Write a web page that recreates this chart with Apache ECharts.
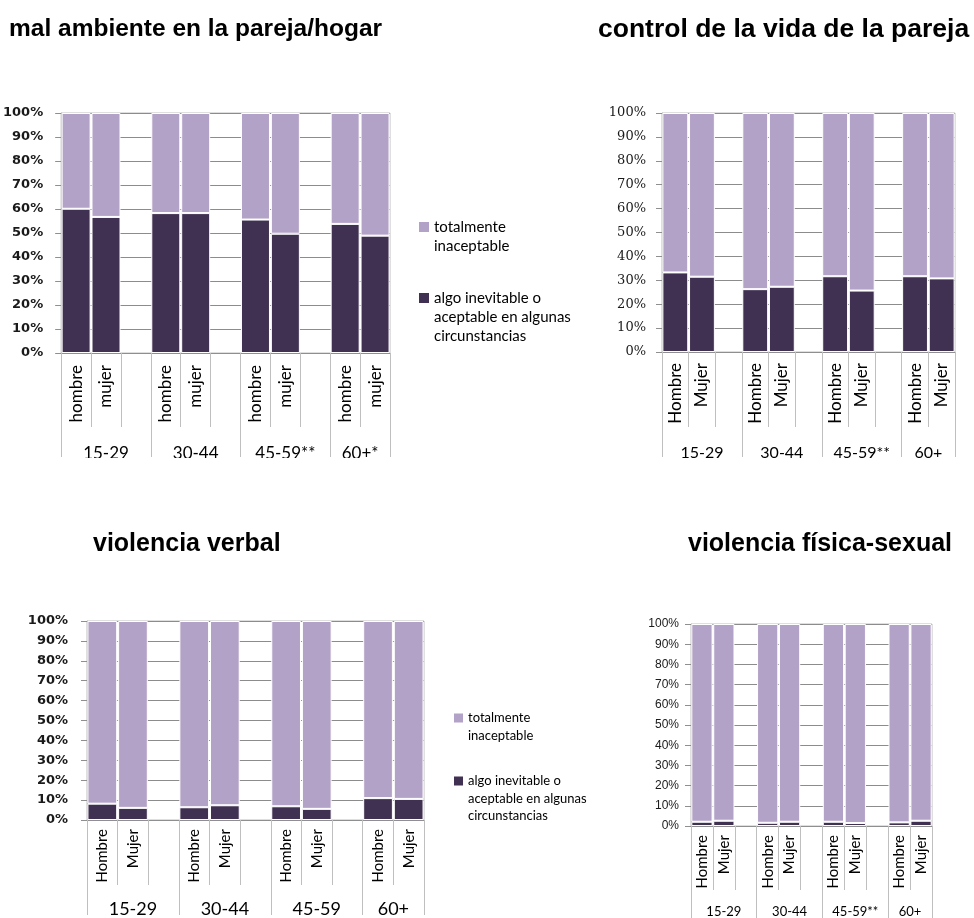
<!DOCTYPE html>
<html>
<head>
<meta charset="utf-8">
<script src="https://cdn.jsdelivr.net/npm/echarts@6/dist/echarts.min.js"></script>
<style>
  html, body { margin: 0; background: #fff; }
  #chart { width: 974px; height: 918px; }
</style>
</head>
<body>
<div id="chart"></div>
<script>
// etiquetas
const sexosMin = ['hombre', 'mujer'];
const sexosMay = ['Hombre', 'Mujer'];
const edadesAmbiente = ['15-29', '30-44', '45-59**', '60+*'];
const edadesControl = ['15-29', '30-44', '45-59**', '60+'];
const edadesVerbal = ['15-29', '30-44', '45-59', '60+'];
const edadesFisica = ['15-29', '30-44', '45-59**', '60+'];

// valores (%), orden: H15, M15, H30, M30, H45, M45, H60, M60
const ambienteAlgo = [60.1, 56.7, 58.3, 58.3, 55.6, 49.7, 53.8, 48.9];
const ambienteTotal = [39.9, 43.3, 41.7, 41.7, 44.4, 50.3, 46.2, 51.1];
const controlAlgo = [33.3, 31.5, 26.3, 27.3, 31.7, 25.7, 31.7, 30.8];
const controlTotal = [66.7, 68.5, 73.7, 72.7, 68.3, 74.3, 68.3, 69.2];
const verbalAlgo = [8.2, 6.1, 6.4, 7.4, 6.9, 5.6, 11.0, 10.6];
const verbalTotal = [91.8, 93.9, 93.6, 92.6, 93.1, 94.4, 89.0, 89.4];
const fisicaAlgo = [2.1, 2.6, 1.6, 2.1, 2.1, 1.5, 1.8, 2.6];
const fisicaTotal = [97.9, 97.4, 98.4, 97.9, 97.9, 98.5, 98.2, 97.4];

const serieAlgo = 'algo inevitable o aceptable en algunas circunstancias';
const serieTotal = 'totalmente inaceptable';
const colorAlgo = '#403152';
const colorTotal = '#b3a2c7';

const panels = [
  { title: 'mal ambiente en la pareja/hogar', tx: 9, ty: 17, tSize: 24.5,
    grid: { left: 58, top: 113, width: 332, height: 240 },
    sexos: sexosMin, edades: edadesAmbiente, algo: ambienteAlgo, total: ambienteTotal,
    yFont: { fontFamily: 'DejaVu Sans', fontWeight: 'bold', fontSize: 13 }, yMargin: 18,
    sexFont: 17, sexMargin: 12, sepLen: 74, edadFont: 17, edadMargin: 92, longLen: 104 },
  { title: 'control de la vida de la pareja', tx: 598, ty: 16, tSize: 26.5,
    grid: { left: 662, top: 113, width: 293, height: 239 },
    sexos: sexosMay, edades: edadesControl, algo: controlAlgo, total: controlTotal,
    yFont: { fontFamily: 'DejaVu Serif', fontSize: 13 }, yMargin: 16,
    sexFont: 17, sexMargin: 11, sepLen: 75, edadFont: 16, edadMargin: 93, longLen: 105 },
  { title: 'violencia verbal', tx: 93, ty: 532, tSize: 25,
    grid: { left: 87, top: 621, width: 337, height: 207 },
    sexos: sexosMay, edades: edadesVerbal, algo: verbalAlgo, total: verbalTotal,
    yFont: { fontFamily: 'DejaVu Sans', fontWeight: 'bold', fontSize: 13 }, yMargin: 19,
    sexFont: 15, sexMargin: 9, sepLen: 65, edadFont: 18, edadMargin: 80, longLen: 95 },
  { title: 'violencia física-sexual', tx: 688, ty: 532, tSize: 25,
    grid: { left: 691, top: 624, width: 241, height: 205 },
    sexos: sexosMay, edades: edadesFisica, algo: fisicaAlgo, total: fisicaTotal,
    yFont: { fontFamily: 'Liberation Sans', fontSize: 12 }, yMargin: 12,
    sexFont: 15, sexMargin: 9, sepLen: 64, edadFont: 13, edadMargin: 79, longLen: 95 }
];

// reparte los 8 valores en las casillas, con una casilla vacía entre grupos
function enCasillas(vals, n) {
  const out = [];
  for (let g = 0; g < n; g++) {
    out.push(vals[2 * g], vals[2 * g + 1]);
    if (g < n - 1) out.push('-');
  }
  return out;
}

const option = { animation: false, title: [], grid: [], xAxis: [], yAxis: [], series: [], graphic: [] };

panels.forEach(function (p, i) {
  const nG = p.edades.length;
  const casillas = [];
  const tamGrupos = [];
  p.edades.forEach(function (e, g) {
    casillas.push(p.sexos[0], p.sexos[1]);
    if (g < nG - 1) casillas.push('');
    tamGrupos.push(g < nG - 1 ? 3 : 2);
  });
  // eje de grupos: puntos cada media casilla
  const nPuntos = casillas.length * 2 + 1;
  const limites = new Set([0]);
  const centros = {};
  let acc = 0;
  tamGrupos.forEach(function (t, g) {
    centros[acc + t] = p.edades[g];
    acc += 2 * t;
    limites.add(acc);
  });

  option.title.push({
    text: p.title, left: p.tx, top: p.ty, padding: 0,
    textStyle: { fontFamily: 'Liberation Sans', fontWeight: 'bold', fontSize: p.tSize, color: '#000' }
  });
  option.grid.push(Object.assign({ show: true, borderColor: '#bfbfbf', borderWidth: 1, containLabel: false }, p.grid));

  option.xAxis.push({
    type: 'category', gridIndex: i, position: 'bottom',
    data: casillas.map(function (c, k) { return 's' + k; }),
    axisLine: { lineStyle: { color: '#8f8f8f', width: 1 } },
    axisTick: { show: true, interval: 0, length: p.sepLen, lineStyle: { color: '#bfbfbf' } },
    axisLabel: {
      interval: 0, rotate: 90, margin: p.sexMargin,
      fontFamily: 'Lato', fontSize: p.sexFont, color: '#000',
      formatter: function (v, k) { return casillas[k]; }
    },
    splitLine: { show: false }
  });
  option.xAxis.push({
    type: 'category', gridIndex: i, position: 'bottom', boundaryGap: false,
    data: Array.from({ length: nPuntos }, function (_, k) { return 'p' + k; }),
    axisLine: { show: false },
    axisTick: { show: true, interval: function (k) { return limites.has(k); }, length: p.longLen, lineStyle: { color: '#bfbfbf' } },
    axisLabel: {
      interval: function (k) { return centros[k] !== undefined; }, margin: p.edadMargin,
      fontFamily: 'Lato', fontSize: p.edadFont, color: '#000',
      formatter: function (v, k) { return centros[k] || ''; }
    },
    splitLine: { show: false }
  });
  option.yAxis.push({
    type: 'value', gridIndex: i, min: 0, max: 100, interval: 10,
    axisLine: { show: true, lineStyle: { color: '#bfbfbf' } },
    axisTick: { show: true, length: 6, lineStyle: { color: '#8f8f8f' } },
    axisLabel: Object.assign({ margin: p.yMargin, color: '#1a1a1a', formatter: '{value}%' }, p.yFont),
    splitLine: { show: true, lineStyle: { color: '#8c8c8c', width: 1 } }
  });

  const barStyle = { borderColor: '#fff', borderWidth: 1 };
  option.series.push({
    name: serieAlgo, type: 'bar', stack: 'p' + i, xAxisIndex: 2 * i, yAxisIndex: i,
    barCategoryGap: '3%', data: enCasillas(p.algo, nG),
    itemStyle: Object.assign({ color: colorAlgo }, barStyle)
  });
  option.series.push({
    name: serieTotal, type: 'bar', stack: 'p' + i, xAxisIndex: 2 * i, yAxisIndex: i,
    barCategoryGap: '3%', data: enCasillas(p.total, nG),
    itemStyle: Object.assign({ color: colorTotal }, barStyle)
  });
});

// leyendas (paneles izquierdos)
function leyenda(x, y1, y2, lh, fs, sq) {
  const txt = { fontFamily: 'Lato', fontSize: fs, fill: '#000', lineHeight: lh };
  return [
    { type: 'rect', shape: { x: x, y: y1 - sq / 2, width: sq, height: sq }, style: { fill: colorTotal } },
    { type: 'text', x: x + sq + 5, y: y1 - lh / 2,
      style: Object.assign({ text: 'totalmente\ninaceptable', verticalAlign: 'top' }, txt) },
    { type: 'rect', shape: { x: x, y: y2 - sq / 2, width: sq, height: sq }, style: { fill: colorAlgo } },
    { type: 'text', x: x + sq + 5, y: y2 - lh / 2,
      style: Object.assign({ text: 'algo inevitable o\naceptable en algunas\ncircunstancias', verticalAlign: 'top' }, txt) }
  ];
}
option.graphic = [].concat(
  leyenda(419, 227, 298, 19, 15, 10),
  leyenda(454, 718, 781, 17.5, 13, 9),
  // recorte inferior de los gráficos superiores
  [{ type: 'rect', z: 100, shape: { x: 0, y: 458, width: 974, height: 60 }, style: { fill: '#fff' } }]
);

const chart = echarts.init(document.getElementById('chart'), null, { renderer: 'canvas' });
chart.setOption(option);
</script>
</body>
</html>
